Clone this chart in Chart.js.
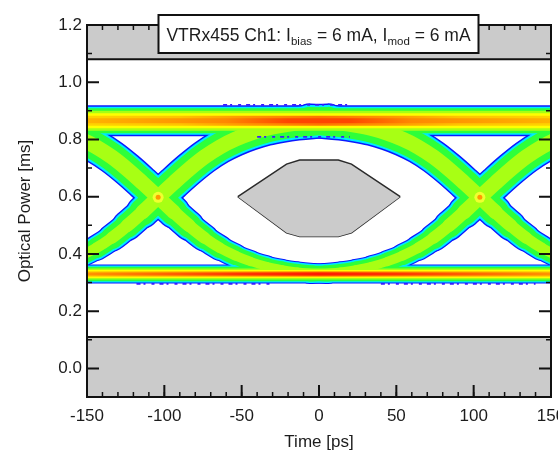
<!DOCTYPE html>
<html>
<head>
<meta charset="utf-8">
<script src="https://cdn.jsdelivr.net/npm/chart.js@4.4.1/dist/chart.umd.min.js"></script>
<style>
  html, body { margin: 0; padding: 0; background: #fff; }
</style>
</head>
<body>
<canvas id="eye" width="558" height="454"></canvas>
<script>
// axis ticks
const timeTicks = [-150, -100, -50, 0, 50, 100, 150];
const powerTicks = [0.0, 0.2, 0.4, 0.6, 0.8, 1.0, 1.2];

// logic levels of the eye
const levelOne = 0.865;
const levelZero = 0.33;

// one transition, sampled around its crossing point (ps, mW)
const edgeOffsets = [-110, -100, -90, -80, -70, -60, -50, -40, -30, -20, -10, 0, 10, 20, 30, 40, 50, 60, 70, 80, 90, 100, 110];
const risingEdge = [0.330, 0.333, 0.338, 0.346, 0.357, 0.373, 0.394, 0.421, 0.456, 0.499, 0.547, 0.598, 0.648, 0.696, 0.739, 0.774, 0.801, 0.822, 0.838, 0.849, 0.857, 0.862, 0.865];
const fallingEdge = [0.865, 0.862, 0.857, 0.849, 0.838, 0.822, 0.801, 0.774, 0.739, 0.696, 0.648, 0.598, 0.547, 0.499, 0.456, 0.421, 0.394, 0.373, 0.357, 0.346, 0.338, 0.333, 0.330];
const crossingTimes = [-104, 104];
const crossingLevel = 0.598;

// sparse outlier hits on the band edges: [from, to, level]
const outlierRuns = [
  [-62, 22, 0.921],
  [-40, 20, 0.809],
  [-118, -30, 0.295],
  [40, 140, 0.295]
];

// eye mask
const maskTop = 1.08;
const maskBottom = 0.11;
const hexTime = [-52.5, -21, -12.5, 12.5, 21, 52.5];
const hexUpper = [0.600, 0.714, 0.728, 0.728, 0.714, 0.600];
const hexLower = [0.600, 0.474, 0.461, 0.461, 0.474, 0.600];

const titleParts = [
  ['VTRx455 Ch1: I', false], ['bias', true], [' = 6 mA, I', false], ['mod', true], [' = 6 mA', false]
];

// density colour layers, outside -> core
const layerColors = ['#0b18ff', '#00eaff', '#2eff3a', '#a8ff14', '#ffff00', '#ffa000', '#ff4a00'];
const topWidths = [31, 28, 25, 20, 15, 10, 5];
const bottomWidths = [19, 17, 14.5, 11, 8, 5, 2.5];
const edgeWidthTop = [35, 32, 28, 15];
const edgeWidthBottom = [20, 18, 15, 8];

const topStops = {
  5: [[-150, '#ffd400'], [-90, '#ffc400'], [-50, '#ff9a00'], [0, '#ff7400'], [50, '#ff9a00'], [90, '#ffc400'], [150, '#ffd400']],
  6: [[-150, '#ffb400'], [-60, '#ff8800'], [-20, '#ff4600'], [20, '#ff4600'], [60, '#ff8800'], [150, '#ffb400']]
};
const bottomStops = {
  5: [[-150, '#ffb800'], [-60, '#ff8000'], [0, '#ff5200'], [60, '#ff8000'], [150, '#ffb800']],
  6: [[-150, '#ff9400'], [-50, '#ff3400'], [0, '#ff1a00'], [50, '#ff3400'], [150, '#ff9400']]
};

const FONT = 'Liberation Sans, Arial, sans-serif';
const INK = '#1c1c1c';
const MASK_GREY = '#cbcbcb';

function hGrad(chart, stops, fallback) {
  const xs = chart.scales.x;
  if (!chart.chartArea || !xs) return fallback;
  const g = chart.ctx.createLinearGradient(xs.getPixelForValue(xs.min), 0, xs.getPixelForValue(xs.max), 0);
  stops.forEach(([t, c]) => g.addColorStop((t - xs.min) / (xs.max - xs.min), c));
  return g;
}

// edges get thinner towards the low level
function edgeWidth(k) {
  return ctx => {
    const y = (ctx.p0.parsed.y + ctx.p1.parsed.y) / 2;
    const f = Math.min(1, Math.max(0, (y - levelZero) / (crossingLevel - levelZero)));
    return edgeWidthBottom[k] + (edgeWidthTop[k] - edgeWidthBottom[k]) * f;
  };
}

const datasets = [];

// grey mask areas
datasets.push({
  data: [{x: -150, y: maskTop}, {x: 150, y: maskTop}],
  fill: 'end', backgroundColor: MASK_GREY, borderColor: '#111', borderWidth: 2, order: 50
});
datasets.push({
  data: [{x: -150, y: maskBottom}, {x: 150, y: maskBottom}],
  fill: 'start', backgroundColor: MASK_GREY, borderColor: '#111', borderWidth: 2, order: 50
});
datasets.push({
  data: hexTime.map((t, i) => ({x: t, y: hexUpper[i]})),
  fill: '+1', backgroundColor: MASK_GREY, borderColor: '#2a2a2a', borderWidth: 1.5, order: 50
});
datasets.push({
  data: hexTime.map((t, i) => ({x: t, y: hexLower[i]})),
  fill: false, borderColor: '#2a2a2a', borderWidth: 1.5, order: 50
});

// traces, drawn as stacked colour layers
for (let k = 0; k < layerColors.length; k++) {
  const order = 30 - k;
  datasets.push({
    data: [{x: -170, y: levelOne}, {x: 170, y: levelOne}],
    borderWidth: topWidths[k],
    borderColor: topStops[k] ? (c => hGrad(c.chart, topStops[k], layerColors[k])) : layerColors[k],
    fill: false, order
  });
  datasets.push({
    data: [{x: -170, y: levelZero}, {x: 170, y: levelZero}],
    borderWidth: bottomWidths[k],
    borderColor: bottomStops[k] ? (c => hGrad(c.chart, bottomStops[k], layerColors[k])) : layerColors[k],
    fill: false, order
  });
  if (k < edgeWidthTop.length) {
    crossingTimes.forEach(tc => {
      [risingEdge, fallingEdge].forEach(edge => {
        datasets.push({
          data: edgeOffsets.map((u, i) => ({x: tc + u, y: edge[i]})),
          borderWidth: edgeWidthTop[k],
          borderColor: layerColors[k],
          borderCapStyle: 'round',
          borderJoinStyle: 'round',
          cubicInterpolationMode: 'monotone',
          segment: {borderWidth: edgeWidth(k)},
          fill: false, order
        });
      });
    });
  }
}

// outlier speckles
outlierRuns.forEach(([t0, t1, v]) => {
  datasets.push({
    data: [{x: t0, y: v}, {x: t1, y: v}],
    borderColor: '#3a1cff', borderWidth: 1.8, borderDash: [4, 3, 2, 6, 3, 5], fill: false, order: 3
  });
});

// hot spots where the edges cross
datasets.push({
  data: crossingTimes.map(t => ({x: t, y: crossingLevel})),
  showLine: false, pointRadius: 5.5, pointBackgroundColor: '#f0ff30', pointBorderWidth: 0, order: 2
});
datasets.push({
  data: crossingTimes.map(t => ({x: t, y: crossingLevel})),
  showLine: false, pointRadius: 2.5, pointBackgroundColor: '#ff9a00', pointBorderWidth: 0, order: 1
});

// frame, inward ticks and the title box
const framePlugin = {
  id: 'frame',
  afterDraw(chart) {
    const {ctx, chartArea: a, scales: {x, y}} = chart;
    ctx.save();
    ctx.strokeStyle = '#111';

    // minor ticks every 10 ps / 0.1 mW
    ctx.lineWidth = 1.5;
    ctx.beginPath();
    for (let t = x.min; t <= x.max + 1e-6; t += 10) {
      const px = x.getPixelForValue(t);
      ctx.moveTo(px, a.bottom); ctx.lineTo(px, a.bottom - 5);
      ctx.moveTo(px, a.top); ctx.lineTo(px, a.top + 5);
    }
    for (let v = 0.1; v <= y.max + 1e-6; v += 0.2) {
      const py = y.getPixelForValue(v);
      ctx.moveTo(a.left, py); ctx.lineTo(a.left + 5, py);
      ctx.moveTo(a.right, py); ctx.lineTo(a.right - 5, py);
    }
    ctx.stroke();

    ctx.lineWidth = 2;
    ctx.beginPath();
    timeTicks.forEach(t => {
      const px = x.getPixelForValue(t);
      ctx.moveTo(px, a.bottom); ctx.lineTo(px, a.bottom - 12);
      ctx.moveTo(px, a.top); ctx.lineTo(px, a.top + 12);
    });
    powerTicks.forEach(v => {
      const py = y.getPixelForValue(v);
      ctx.moveTo(a.left, py); ctx.lineTo(a.left + 12, py);
      ctx.moveTo(a.right, py); ctx.lineTo(a.right - 12, py);
    });
    ctx.stroke();

    ctx.lineWidth = 2;
    ctx.strokeRect(a.left, a.top, a.right - a.left, a.bottom - a.top);

    // title box
    const cx = (a.left + a.right) / 2 - 0.5;
    const bx = cx - 160, by = a.top - 10, bw = 320, bh = 38;
    ctx.fillStyle = '#fff';
    ctx.fillRect(bx, by, bw, bh);
    ctx.strokeRect(bx, by, bw, bh);

    const mainFont = '17.5px ' + FONT, subFont = '11.5px ' + FONT;
    let w = 0;
    titleParts.forEach(([s, sub]) => { ctx.font = sub ? subFont : mainFont; w += ctx.measureText(s).width; });
    let tx = cx - w / 2;
    ctx.fillStyle = INK;
    ctx.textBaseline = 'alphabetic';
    ctx.textAlign = 'left';
    titleParts.forEach(([s, sub]) => {
      ctx.font = sub ? subFont : mainFont;
      ctx.fillText(s, tx, sub ? by + 30 : by + 25.5);
      tx += ctx.measureText(s).width;
    });
    ctx.restore();
  }
};

Chart.defaults.font.family = FONT;
Chart.defaults.color = INK;

new Chart(document.getElementById('eye'), {
  type: 'line',
  data: {datasets},
  options: {
    responsive: false,
    animation: false,
    devicePixelRatio: 1,
    layout: {padding: {top: 25, right: 7, left: 0, bottom: 0}},
    elements: {point: {radius: 0}, line: {tension: 0}},
    plugins: {legend: {display: false}, tooltip: {enabled: false}},
    scales: {
      x: {
        type: 'linear', min: -150, max: 150,
        grid: {display: false, drawTicks: false},
        border: {display: false},
        afterBuildTicks: s => { s.ticks = timeTicks.map(v => ({value: v})); },
        afterFit: s => { s.height = 57; s.paddingLeft = 0; s.paddingRight = 0; },
        ticks: {font: {size: 17}, color: INK, padding: 9, maxRotation: 0, autoSkip: false},
        title: {display: true, text: 'Time [ps]', font: {size: 17}, color: INK, padding: {top: 0, bottom: 1}}
      },
      y: {
        type: 'linear', min: -0.1, max: 1.2,
        grid: {display: false, drawTicks: false},
        border: {display: false},
        afterBuildTicks: s => { s.ticks = powerTicks.map(v => ({value: v})); },
        afterFit: s => { s.width = 87; },
        ticks: {font: {size: 17}, color: INK, padding: 5, callback: v => v.toFixed(1)},
        title: {display: true, text: 'Optical Power [ms]', font: {size: 17}, color: INK, padding: {top: 15, bottom: 0}}
      }
    }
  },
  plugins: [framePlugin]
});
</script>
</body>
</html>
